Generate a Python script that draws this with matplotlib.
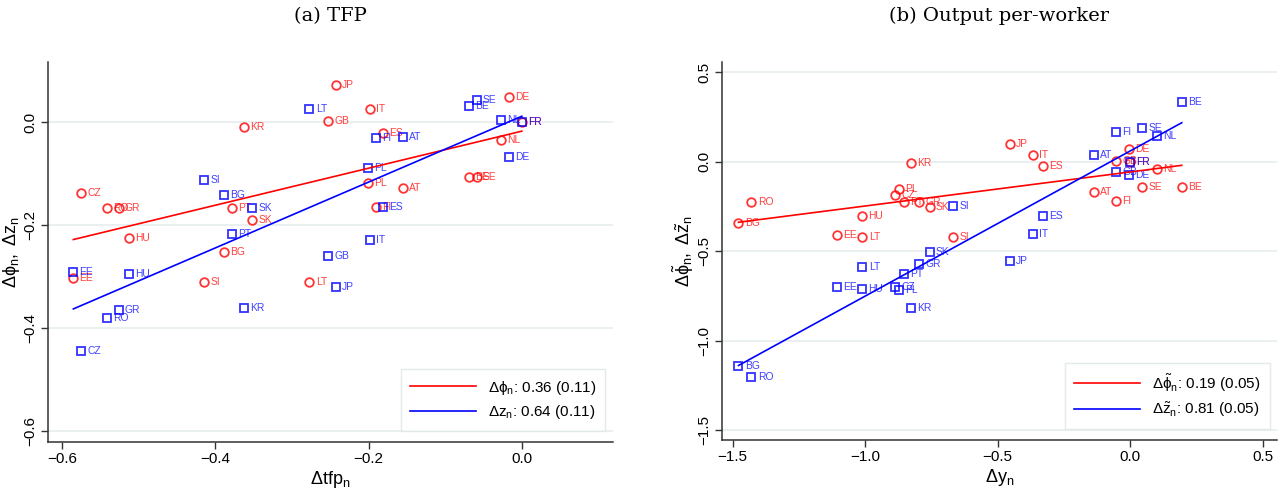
import matplotlib

matplotlib.use("Agg")
import matplotlib.pyplot as plt
import numpy as np

plt.rcParams["font.family"] = ["Liberation Sans", "DejaVu Sans"]
plt.rcParams["mathtext.fontset"] = "custom"
plt.rcParams["mathtext.rm"] = "Liberation Sans"
plt.rcParams["mathtext.it"] = "Liberation Sans"
plt.rcParams["mathtext.bf"] = "Liberation Sans:bold"

countries = ["AT", "BE", "BG", "CZ", "DE", "EE", "ES", "FI", "FR", "GB", "GR", "HU",
             "IT", "JP", "KR", "LT", "NL", "PL", "PT", "RO", "SE", "SI", "SK"]

# panel (a): TFP decomposition
tfp = [-0.155, -0.069, -0.389, -0.575, -0.017, -0.585, -0.181, -0.190, 0.0, -0.253, -0.526, -0.512,
       -0.198, -0.243, -0.362, -0.277, -0.027, -0.201, -0.378, -0.541, -0.059, -0.414, -0.352]
dphi = [-0.128, -0.106, -0.252, -0.138, 0.049, -0.303, -0.021, -0.165, 0.0, 0.002, -0.167, -0.224,
        0.027, 0.072, -0.008, -0.311, -0.035, -0.117, -0.167, -0.167, -0.106, -0.311, -0.189]
dz = [-0.029, 0.031, -0.142, -0.445, -0.068, -0.291, -0.165, -0.031, 0.0, -0.260, -0.365, -0.295,
      -0.229, -0.320, -0.361, 0.027, 0.004, -0.089, -0.216, -0.380, 0.043, -0.111, -0.167]

# panel (b): output per worker decomposition
dy = [-0.137, 0.195, -1.478, -0.886, -0.003, -1.107, -0.328, -0.054, 0.0, -0.053, -0.795, -1.012,
      -0.367, -0.453, -0.826, -1.010, 0.101, -0.873, -0.855, -1.429, 0.045, -0.669, -0.757]
dphi_t = [-0.171, -0.139, -0.340, -0.186, 0.069, -0.407, -0.026, -0.219, 0.0, 0.004, -0.225, -0.301,
          0.039, 0.100, -0.009, -0.420, -0.042, -0.154, -0.227, -0.227, -0.141, -0.420, -0.255]
dz_t = [0.036, 0.335, -1.139, -0.700, -0.072, -0.699, -0.301, 0.167, 0.0, -0.057, -0.569, -0.708,
        -0.403, -0.552, -0.818, -0.587, 0.145, -0.716, -0.628, -1.203, 0.190, -0.245, -0.502]

# fitted lines (slope, intercept)
fit_a_phi = (0.36, -0.017)
fit_a_z = (0.64, 0.012)
fit_b_phi = (0.19, -0.057)
fit_b_z = (0.81, 0.060)

RED = "#ff0000"
BLUE = "#0000ff"
GRID = "#e6eeee"


def fmt(t):
    return f"{t:.1f}".replace("-", "\u2212")


def panel(ax, x, y1, y2, fit1, fit2, labels, xlabel, ylabel, xlim, ylim, xticks, yticks):
    x = np.asarray(x)
    for yv, marker, color in ((y1, "o", RED), (y2, "s", BLUE)):
        ax.plot(x, yv, linestyle="none", marker=marker, markersize=6.2,
                markerfacecolor="none", markeredgecolor=color, markeredgewidth=1.3,
                alpha=0.8, zorder=3)
        for xi, yi, name in zip(x, yv, countries):
            ax.annotate(name, (xi, yi), xytext=(4.5, 0), textcoords="offset points",
                        fontsize=7.4, color=color, alpha=0.75, va="center", ha="left")
    xs = np.array([x.min(), x.max()])
    ax.plot(xs, fit1[0] * xs + fit1[1], color=RED, lw=1.2, label=labels[0], zorder=4)
    ax.plot(xs, fit2[0] * xs + fit2[1], color=BLUE, lw=1.2, label=labels[1], zorder=4)

    ax.set_xlim(*xlim)
    ax.set_ylim(*ylim)
    ax.set_xticks(xticks)
    ax.set_yticks(yticks)
    ax.set_xticklabels([fmt(t) for t in xticks])
    ax.set_yticklabels([fmt(t) for t in yticks], rotation=90, va="center")
    ax.tick_params(labelsize=11, length=5, width=1, color="#333333", direction="out", pad=2.5)
    ax.yaxis.grid(True, color=GRID, lw=1.2)
    ax.set_axisbelow(True)
    for side in ("top", "right"):
        ax.spines[side].set_visible(False)
    for side in ("left", "bottom"):
        ax.spines[side].set_color("#333333")
        ax.spines[side].set_linewidth(1.1)
    ax.set_xlabel(xlabel, fontsize=13, labelpad=2)
    ax.set_ylabel(ylabel, fontsize=13, labelpad=1)
    leg = ax.legend(loc="lower right", fontsize=11, frameon=True, fancybox=False,
                    handlelength=4.3, borderpad=0.6, labelspacing=0.45,
                    bbox_to_anchor=(1.0, 0.01))
    leg.get_frame().set_edgecolor("#dde5e5")
    leg.get_frame().set_linewidth(1.0)


fig = plt.figure(figsize=(12.88, 4.92), dpi=100)
ax1 = fig.add_axes([0.0373, 0.1016, 0.4387, 0.772])
ax2 = fig.add_axes([0.5606, 0.1057, 0.431, 0.768])

panel(ax1, tfp, dphi, dz, fit_a_phi, fit_a_z,
      [r"$\Delta\phi_\mathrm{n}$: 0.36 (0.11)", r"$\Delta z_\mathrm{n}$: 0.64 (0.11)"],
      r"$\Delta\mathrm{tfp}_\mathrm{n}$", r"$\Delta\phi_\mathrm{n},\ \Delta z_\mathrm{n}$",
      (-0.618, 0.119), (-0.621, 0.117), [-0.6, -0.4, -0.2, 0.0], [-0.6, -0.4, -0.2, 0.0])

panel(ax2, dy, dphi_t, dz_t, fit_b_phi, fit_b_z,
      [r"$\Delta\tilde{\phi}_\mathrm{n}$: 0.19 (0.05)", r"$\Delta\tilde{z}_\mathrm{n}$: 0.81 (0.05)"],
      r"$\Delta\mathrm{y}_\mathrm{n}$", r"$\Delta\tilde{\phi}_\mathrm{n},\ \Delta\tilde{z}_\mathrm{n}$",
      (-1.54, 0.555), (-1.553, 0.556), [-1.5, -1.0, -0.5, 0.0, 0.5], [-1.5, -1.0, -0.5, 0.0, 0.5])

fig.text(0.2567, 0.968, "(a) TFP", ha="center", va="center", fontsize=14, family="DejaVu Serif")
fig.text(0.7756, 0.968, "(b) Output per-worker", ha="center", va="center", fontsize=14,
         family="DejaVu Serif")

fig.savefig("out.png", dpi=100)
plt.close(fig)
